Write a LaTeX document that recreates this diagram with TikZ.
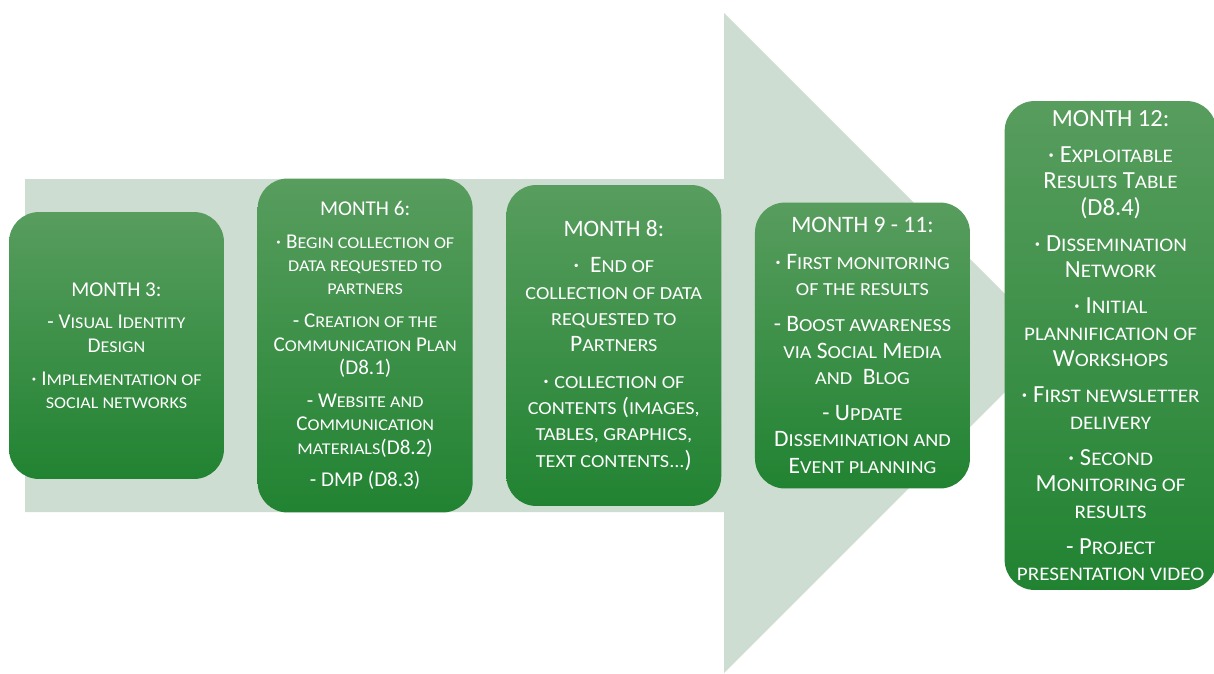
\documentclass[tikz,border=0pt]{standalone}
\usepackage{fontspec}
\usepackage{xcolor}
\setmainfont{Carlito}
\newfontfamily\scfont[Scale=0.78, FakeStretch=1.1]{Carlito}
\newcommand\fsc[1]{{\scfont\MakeUppercase{#1}}}
\usetikzlibrary{positioning}
\definecolor{arrowgrey}{RGB}{206, 221, 209}
\definecolor{boxtop}{RGB}{88, 157, 94}
\definecolor{boxbottom}{RGB}{33, 131, 50}
\tikzset{
 monthbox/.style={
 rectangle,
 rounded corners=0.6cm,
 top color=boxtop,
 bottom color=boxbottom,
 draw=none,
 text=white,
 align=center,
 minimum width=4.3cm,
 inner sep=0pt,
 font=\fontsize{13.4}{15}\selectfont
 },
 smallmonth/.style={
 monthbox,
 font=\fontsize{12}{13.3}\selectfont
 },
 bigmonth/.style={
 monthbox,
 font=\fontsize{14}{15}\selectfont
 }
}

\begin{document}
\begin{tikzpicture}[x=0.02cm, y=-0.02cm, node distance=0.66cm]
	\useasboundingbox (0,0) rectangle (1214,673);
  
	\fill[arrowgrey] (25,179) -- (724,179) -- (724,13) -- (1054,343)
		-- (724,673) -- (724,512) -- (25,512) -- cycle;
  
	\node[smallmonth, minimum height=5.34cm] (month3) at (116.5,345.5)
		{MONTH 3:\\[5.4pt]
		- V\fsc{isual} I\fsc{dentity}\\ D\fsc{esign}\\[5.4pt]
		· I\fsc{mplementation of}\\ \fsc{social networks}};
  
	\node[smallmonth, minimum height=6.68cm, right=of month3] (month6)
		{MONTH 6:\\[5.4pt]
		· B\fsc{egin collection of}\\ \fsc{data requested to}\\ \fsc{partners}\\[5.4pt]
		- C\fsc{reation of the}\\ C\fsc{ommunication} P\fsc{lan}\\ (D8.1)\\[5.4pt]
		- W\fsc{ebsite and}\\ C\fsc{ommunication}\\ \fsc{materials}(D8.2)\\[5.4pt]
		- DMP (D8.3)};
  
	\node[monthbox, minimum height=6.42cm, right=of month6] (month8)
		{MONTH 8:\\[5.6pt]
		·\ \ E\fsc{nd of}\\ \fsc{collection of data}\\ \fsc{requested to}\\ P\fsc{artners}\\[5.6pt]
		· \fsc{collection of}\\ \fsc{contents} (\fsc{images,}\\ \fsc{tables, graphics,}\\ \fsc{text contents...})};
  
	\node[monthbox, minimum height=5.72cm, right=of month8] (month9)
		{MONTH 9 - 11:\\[5.6pt]
		· F\fsc{irst monitoring}\\ \fsc{of the results}\\[5.6pt]
		- B\fsc{oost awareness}\\ \fsc{via} S\fsc{ocial} M\fsc{edia}\\ \fsc{and}\ \ B\fsc{log}\\[5.6pt]
		- U\fsc{pdate}\\ D\fsc{issemination and}\\ E\fsc{vent planning}};
  
	\node[bigmonth, minimum width=4.24cm, minimum height=9.78cm, right=0.68cm of month9] (month12)
		{MONTH 12:\\[5.6pt]
		· E\fsc{xploitable}\\ R\fsc{esults} T\fsc{able}\\ (D8.4)\\[5.6pt]
		· D\fsc{issemination}\\ N\fsc{etwork}\\[5.6pt]
		· I\fsc{nitial}\\ \fsc{plannification of}\\ W\fsc{orkshops}\\[5.6pt]
		· F\fsc{irst newsletter}\\ \fsc{delivery}\\[5.6pt]
		· S\fsc{econd}\\ M\fsc{onitoring of}\\ \fsc{results}\\[5.6pt]
		- P\fsc{roject}\\ \fsc{presentation video}};
\end{tikzpicture}
\end{document}
